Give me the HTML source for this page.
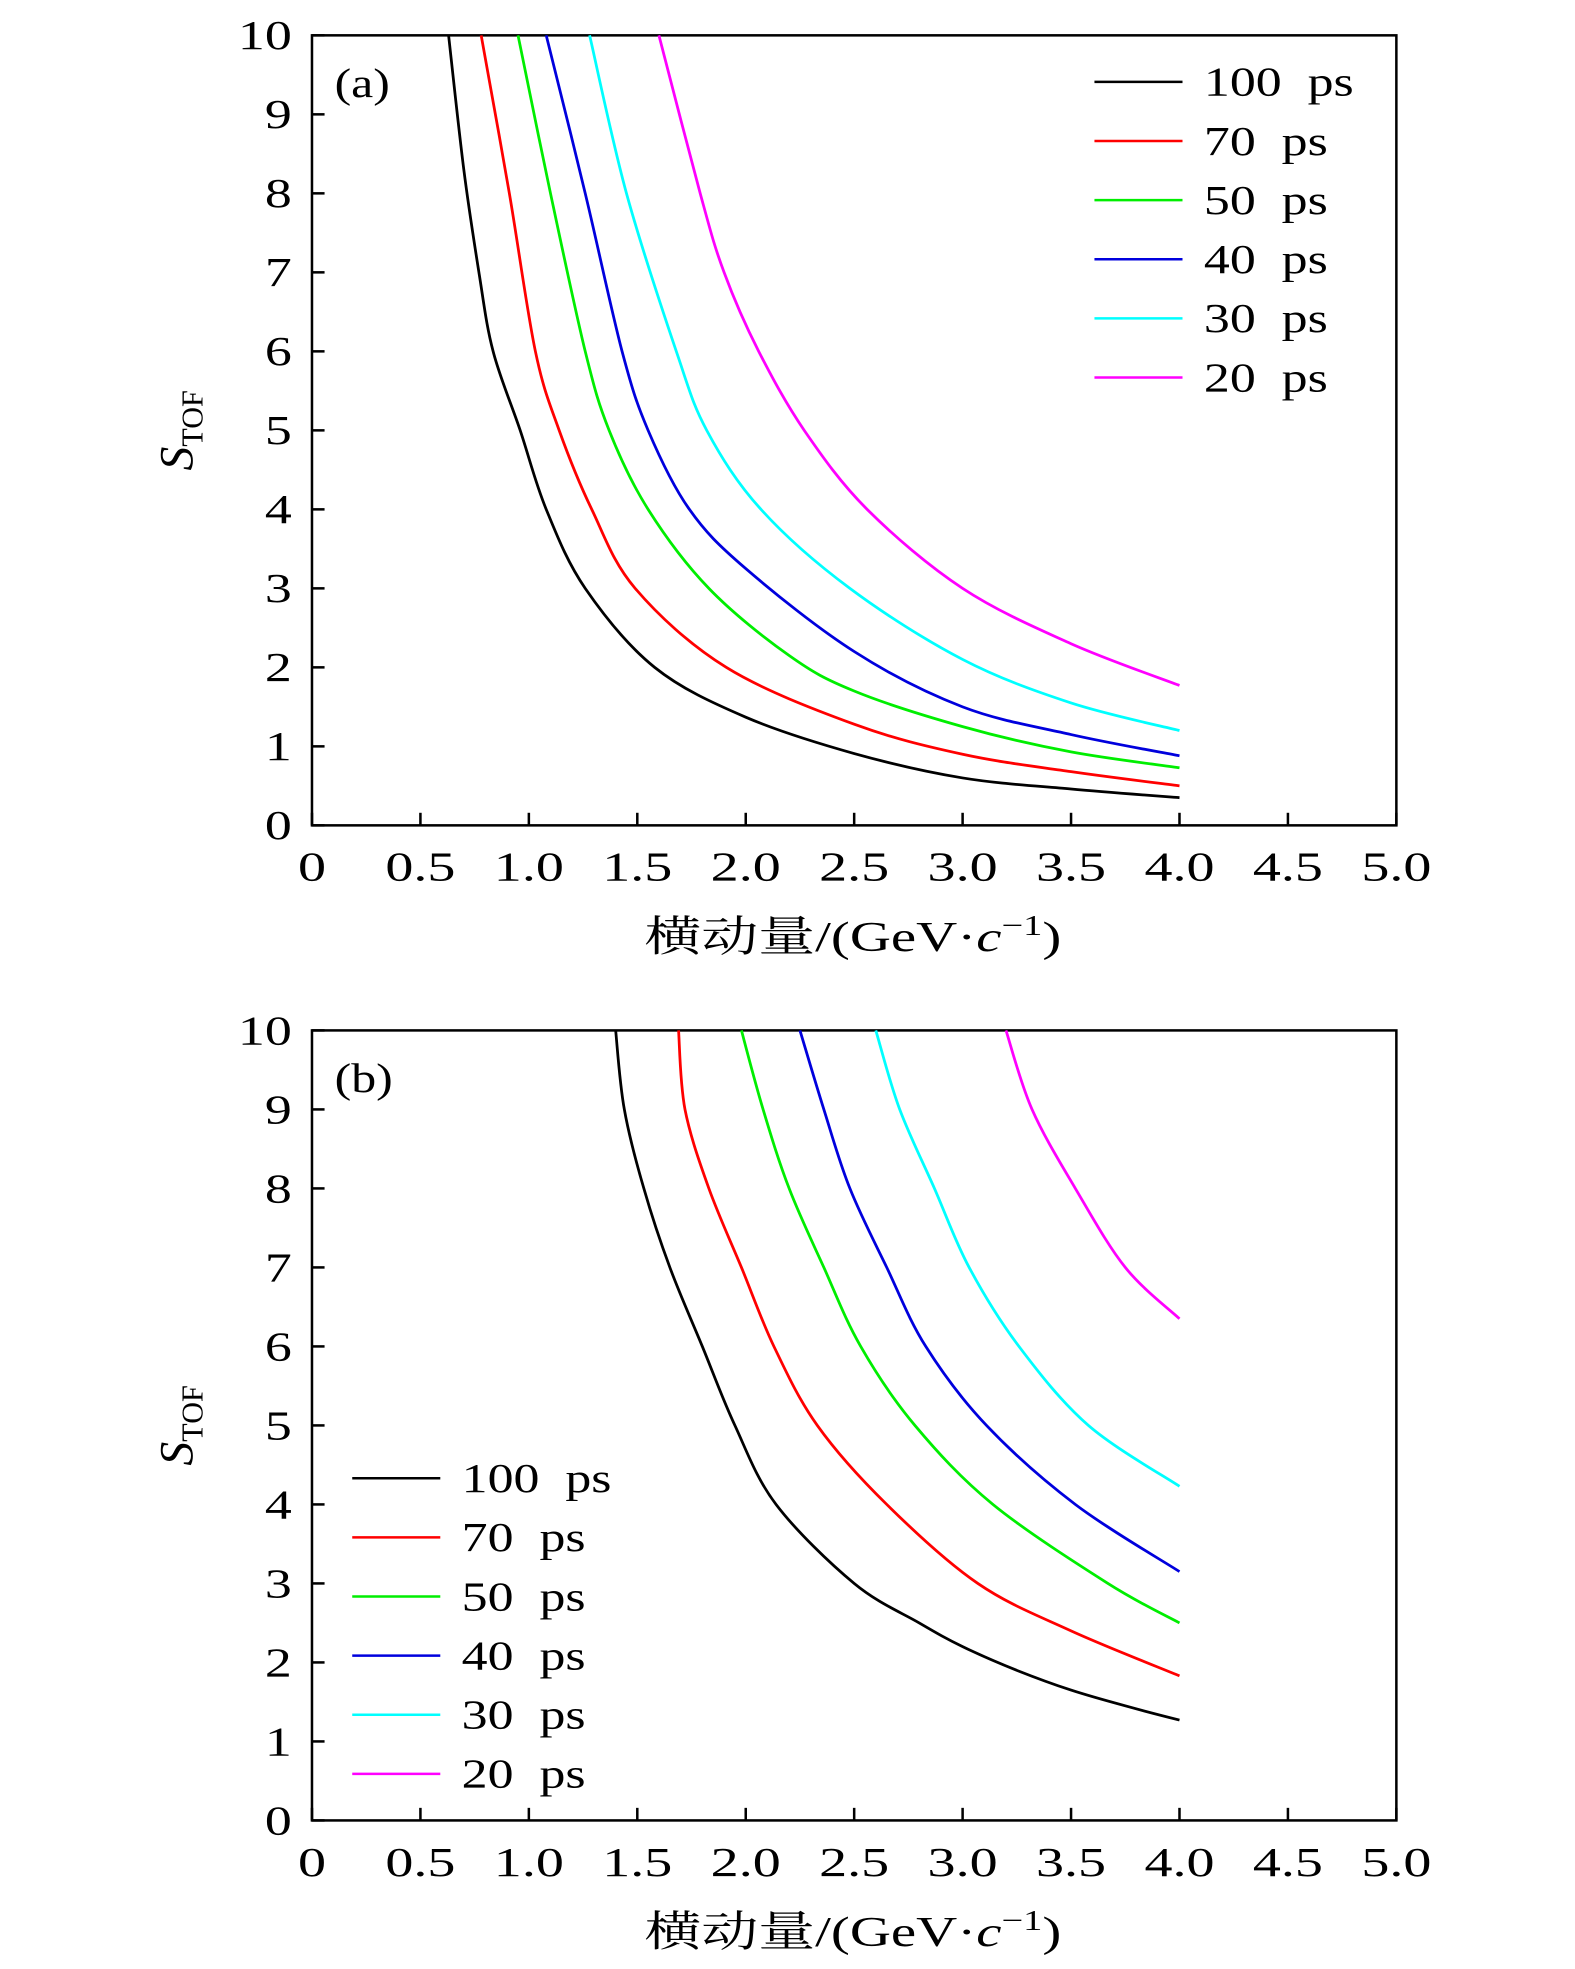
<!DOCTYPE html>
<html><head><meta charset="utf-8"><style>
html,body{margin:0;padding:0;background:#fff;}
svg{display:block;}
text{font-family:"Liberation Serif","Noto Serif CJK SC",serif;fill:#000;}
</style></head><body>
<svg id="chart" width="1575" height="1969" viewBox="0 0 1252 1565" xmlns="http://www.w3.org/2000/svg"></svg>
<script>
const seriesNames = ["100 ps","70 ps","50 ps","40 ps","30 ps","20 ps"];
const seriesColors = ["#000000","#ff0000","#00ee00","#0000dd","#00ffff","#ff00ff"];
const xTicks = [0,0.5,1.0,1.5,2.0,2.5,3.0,3.5,4.0,4.5,5.0];
const xTickLabels = ["0","0.5","1.0","1.5","2.0","2.5","3.0","3.5","4.0","4.5","5.0"];
const yTicks = [0,1,2,3,4,5,6,7,8,9,10];
// panel (a)
const aX = [
 [0.63,0.7,0.77,0.835,0.96,1.08,1.26,1.58,2.0,2.5,3.0,3.5,4.0],
 [0.78,0.91,1.03,1.14,1.29,1.49,1.91,2.5,3.0,3.5,4.0],
 [0.95,1.10,1.26,1.37,1.55,1.83,2.2,2.5,3.0,3.5,4.0],
 [1.08,1.26,1.43,1.55,1.74,2.0,2.5,3.0,3.5,4.0],
 [1.28,1.45,1.68,1.82,2.07,2.48,3.0,3.5,4.0],
 [1.6,1.79,1.9,2.06,2.27,2.56,3.0,3.5,4.0]
];
const aY = [
 [10,8.3,7,6,5,4,3,2,1.37,0.91,0.6,0.46,0.35],
 [10,8,6,5,4,3,2,1.28,0.9,0.68,0.5],
 [10,8,6,5,4,3,2.15,1.7,1.25,0.93,0.73],
 [10,8,6,5,4,3.25,2.2,1.5,1.15,0.88],
 [10,8,6,5,4,3,2.1,1.55,1.2],
 [10,8,7,6,5,4,3,2.3,1.77]
];
// panel (b)
const bX = [
 [1.4,1.44,1.53,1.65,1.8,1.95,2.14,2.5,2.8,3.0,3.25,3.5,3.75,4.0],
 [1.69,1.72,1.83,1.98,2.13,2.33,2.65,3.07,3.5,4.0],
 [1.98,2.08,2.2,2.36,2.53,2.78,3.14,3.67,4.0],
 [2.25,2.36,2.48,2.65,2.83,3.11,3.52,4.0],
 [2.6,2.71,2.87,3.03,3.26,3.58,4.0],
 [3.2,3.32,3.52,3.75,4.0]
];
const bY = [
 [10,9,8,7,6,5,4,3,2.5,2.2,1.9,1.65,1.45,1.27],
 [10,9,8,7,6,5,4,3,2.4,1.83],
 [10,9,8,7,6,5,4,3,2.5],
 [10,9,8,7,6,5,4,3.15],
 [10,9,8,7,6,5,4.23],
 [10,9,8,7,6.35]
];

const NS="http://www.w3.org/2000/svg";
const svg=document.getElementById('chart');
function mk(tag,attrs,parent){const e=document.createElementNS(NS,tag);for(const k in attrs)e.setAttribute(k,attrs[k]);(parent||svg).appendChild(e);return e;}
function stretch(t,f){const w=t.getComputedTextLength();t.setAttribute('textLength',(w*f).toFixed(1));t.setAttribute('lengthAdjust','spacingAndGlyphs');}
function smoothPath(P){
  let d='M'+P[0][0].toFixed(1)+','+P[0][1].toFixed(1);
  for(let i=0;i<P.length-1;i++){
    const p0=P[i-1]||P[i],p1=P[i],p2=P[i+1],p3=P[i+2]||P[i+1];
    const c1=[p1[0]+(p2[0]-p0[0])/6,p1[1]+(p2[1]-p0[1])/6];
    const c2=[p2[0]-(p3[0]-p1[0])/6,p2[1]-(p3[1]-p1[1])/6];
    d+=` C${c1[0].toFixed(1)},${c1[1].toFixed(1)} ${c2[0].toFixed(1)},${c2[1].toFixed(1)} ${p2[0].toFixed(1)},${p2[1].toFixed(1)}`;
  }
  return d;
}

function panel(p){
  const L=248,R=1110,T=p.top,B=p.top+628;
  const sx=v=>L+(v/5)*(R-L);
  const sy=v=>B-(v/10)*(B-T);
  const g=mk('g',{});
  
  
  const frame=mk('rect',{x:L,y:T,width:R-L,height:B-T,fill:'none',stroke:'#000','stroke-width':2},g);
  
  
  xTicks.forEach((v,i)=>{
    mk('line',{x1:sx(v),x2:sx(v),y1:B,y2:B-10,stroke:'#000','stroke-width':2},g);
    const t=mk('text',{x:sx(v),y:B+44,'text-anchor':'middle','font-size':33},g);
    t.textContent=xTickLabels[i];
    
    
    stretch(t,1.35);
  });
  yTicks.forEach(v=>{
    mk('line',{x1:L,x2:L+10,y1:sy(v),y2:sy(v),stroke:'#000','stroke-width':2},g);
    const t=mk('text',{x:232,y:sy(v)+11,'text-anchor':'end','font-size':33},g);
    t.textContent=String(v);
    
    
    stretch(t,1.3);
  });
  const pl=mk('text',{x:266,y:T+49,'font-size':33},g);
  pl.textContent='('+p.id+')';
  
  
  stretch(pl,1.2);
  const xt=mk('text',{x:678,y:B+100,'text-anchor':'middle','font-size':34},g);
  xt.innerHTML='横动量/(GeV·<tspan font-style="italic">c</tspan><tspan font-size="23" dy="-13">−1</tspan><tspan dy="13">)</tspan>';
  
  
  stretch(xt,1.33);
  const yt=mk('text',{transform:`translate(153,${(T+B)/2}) rotate(-90)`,'text-anchor':'middle','font-size':38},g);
  yt.innerHTML='<tspan font-style="italic">S</tspan><tspan font-size="24" dy="8">TOF</tspan>';
  
  
  p.xs.forEach((xs,i)=>{
    const P=xs.map((x,j)=>[sx(x),sy(p.ys[i][j])]);
    const line=mk('path',{d:smoothPath(P),fill:'none',stroke:seriesColors[i],'stroke-width':2.2,'stroke-linejoin':'round'},g);
    
    
  });
  seriesNames.forEach((n,i)=>{
    const y=p.legY+i*47;
    const le=mk('g',{},g);
    
    
    mk('line',{x1:p.legX,x2:p.legX+70,y1:y,y2:y,stroke:seriesColors[i],'stroke-width':2},le);
    const t=mk('text',{x:p.legX+87,y:y+11,'font-size':33},le);
    t.textContent=n.replace(' ','\u00a0\u00a0');
    stretch(t,1.25);
  });
}
panel({id:'a',top:28,xs:aX,ys:aY,legX:870,legY:65});
panel({id:'b',top:819,xs:bX,ys:bY,legX:280,legY:1175});
</script>
</body></html>
